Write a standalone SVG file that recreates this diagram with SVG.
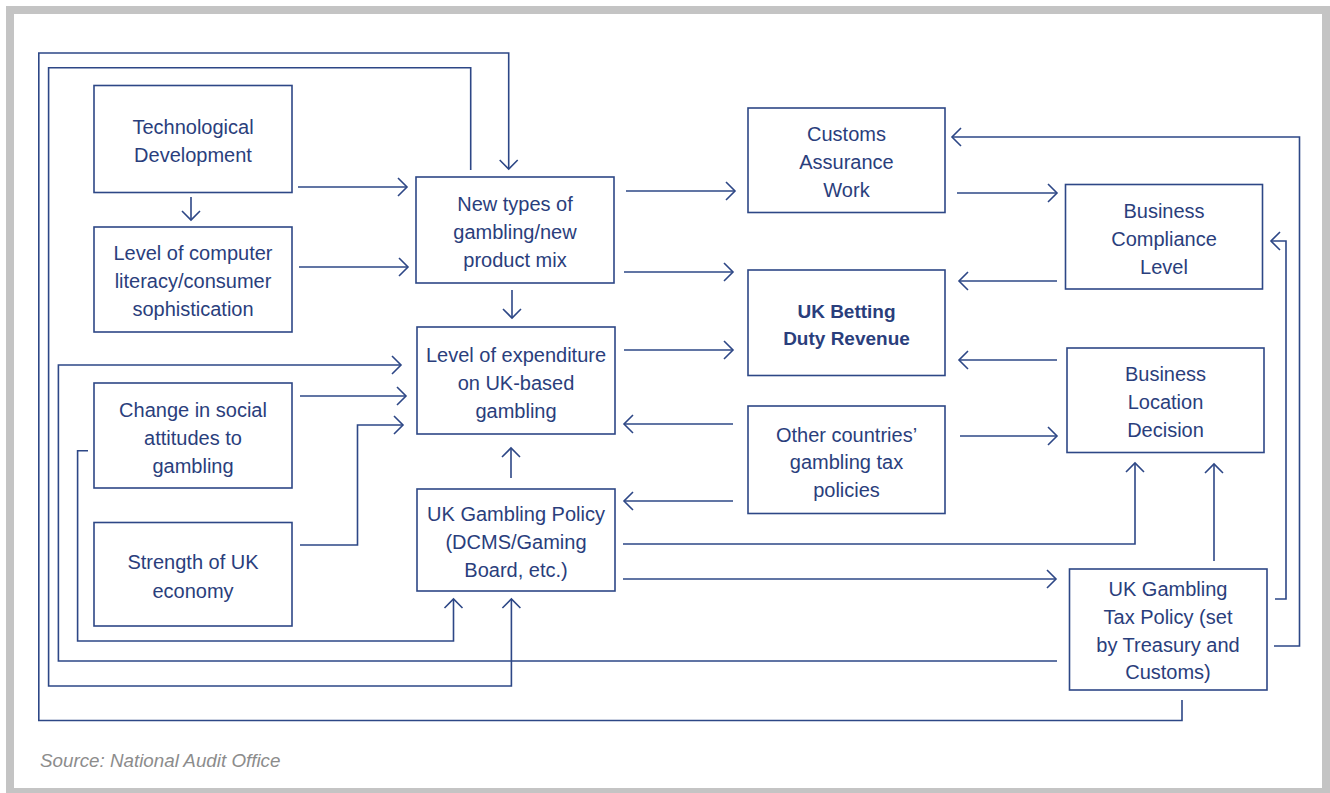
<svg xmlns="http://www.w3.org/2000/svg" width="1330" height="793" viewBox="0 0 1330 793">
<style>
.box{fill:#fff;stroke:#2d4786;stroke-width:1.6}
.t{font-family:"Liberation Sans",Arial,sans-serif;font-size:20px;fill:#2a3e7c;text-anchor:middle}
.b{font-weight:bold;font-size:19px}
.c{fill:none;stroke:#2d4786;stroke-width:1.6;stroke-linejoin:miter}
.a{marker-end:url(#arr)}
.src{font-family:"Liberation Sans",Arial,sans-serif;font-size:18.8px;font-style:italic;fill:#8c8c8c}
</style>
<defs>
<marker id="arr" markerUnits="userSpaceOnUse" markerWidth="14" markerHeight="22" viewBox="0 0 14 22" refX="11" refY="11" orient="auto">
<path d="M2,2 L11,11 L2,20" fill="none" stroke="#2d4786" stroke-width="1.6"/>
</marker>
</defs>
<rect x="0" y="0" width="1330" height="793" fill="#fff"/>
<rect x="10" y="10" width="1316" height="782" fill="none" stroke="#c4c4c4" stroke-width="8"/>

<g id="connectors">
<path class="c a" d="M298,187 H407"/>
<path class="c a" d="M191,197 V220"/>
<path class="c a" d="M299,267 H408"/>
<path class="c a" d="M512,290 V318"/>
<path class="c a" d="M626,191 H735"/>
<path class="c a" d="M624,272 H733"/>
<path class="c a" d="M624,350 H733"/>
<path class="c a" d="M957,193 H1057"/>
<path class="c a" d="M1057,281 H959"/>
<path class="c a" d="M1057,360 H959"/>
<path class="c a" d="M733,424 H624"/>
<path class="c a" d="M733,501 H624"/>
<path class="c a" d="M960,436 H1057"/>
<path class="c a" d="M623,544 H1135 V463"/>
<path class="c a" d="M623,579 H1056"/>
<path class="c a" d="M1214,561 V464"/>
<path class="c a" d="M1275,599 H1286 V241 H1271"/>
<path class="c a" d="M1274,646 H1299.5 V137 H952"/>
<path class="c a" d="M1182,700 V720.5 H38.8 V53 H508.7 V169"/>
<path class="c a" d="M470.7,170 V67.7 H48.6 V686 H511.4 V599"/>
<path class="c a" d="M1057,661 H58.4 V365 H401"/>
<path class="c a" d="M88,450.7 H77.6 V641 H453.5 V599"/>
<path class="c a" d="M300,396 H406"/>
<path class="c a" d="M300,545 H357.5 V425 H403"/>
<path class="c a" d="M511,478 V448"/>
</g>

<g id="tech">
<rect class="box" x="94" y="85.5" width="198" height="107"/>
<text class="t" x="193" y="133.5">Technological</text>
<text class="t" x="193" y="161.5">Development</text>
</g>
<g id="literacy">
<rect class="box" x="94" y="227" width="198" height="105"/>
<text class="t" x="193" y="260">Level of computer</text>
<text class="t" x="193" y="288">literacy/consumer</text>
<text class="t" x="193" y="316">sophistication</text>
</g>
<g id="social">
<rect class="box" x="94" y="383" width="198" height="105"/>
<text class="t" x="193" y="416.5">Change in social</text>
<text class="t" x="193" y="444.5">attitudes to</text>
<text class="t" x="193" y="472.5">gambling</text>
</g>
<g id="economy">
<rect class="box" x="94" y="522.5" width="198" height="103.5"/>
<text class="t" x="193" y="569">Strength of UK</text>
<text class="t" x="193" y="597.5">economy</text>
</g>
<g id="newtypes">
<rect class="box" x="416" y="177" width="198" height="106"/>
<text class="t" x="515" y="210.5">New types of</text>
<text class="t" x="515" y="238.5">gambling/new</text>
<text class="t" x="515" y="266.5">product mix</text>
</g>
<g id="expenditure">
<rect class="box" x="417" y="327" width="198" height="107"/>
<text class="t" x="516" y="361.5">Level of expenditure</text>
<text class="t" x="516" y="389.5">on UK-based</text>
<text class="t" x="516" y="417.5">gambling</text>
</g>
<g id="policy">
<rect class="box" x="417" y="489" width="198" height="102"/>
<text class="t" x="516" y="520.5">UK Gambling Policy</text>
<text class="t" x="516" y="548.5">(DCMS/Gaming</text>
<text class="t" x="516" y="576.5">Board, etc.)</text>
</g>
<g id="customs">
<rect class="box" x="748" y="108" width="197" height="104.5"/>
<text class="t" x="846.5" y="140.5">Customs</text>
<text class="t" x="846.5" y="168.5">Assurance</text>
<text class="t" x="846.5" y="196.5">Work</text>
</g>
<g id="revenue">
<rect class="box" x="748" y="270" width="197" height="105.5"/>
<text class="t b" x="846.5" y="317.5">UK Betting</text>
<text class="t b" x="846.5" y="345">Duty Revenue</text>
</g>
<g id="othercountries">
<rect class="box" x="748" y="406" width="197" height="107.5"/>
<text class="t" x="846.5" y="441.5">Other countries’</text>
<text class="t" x="846.5" y="469">gambling tax</text>
<text class="t" x="846.5" y="496.5">policies</text>
</g>
<g id="compliance">
<rect class="box" x="1065.5" y="184.5" width="197" height="104.5"/>
<text class="t" x="1164" y="218">Business</text>
<text class="t" x="1164" y="246">Compliance</text>
<text class="t" x="1164" y="273.5">Level</text>
</g>
<g id="location">
<rect class="box" x="1067" y="348" width="197" height="104.5"/>
<text class="t" x="1165.5" y="380.5">Business</text>
<text class="t" x="1165.5" y="408.5">Location</text>
<text class="t" x="1165.5" y="436.5">Decision</text>
</g>
<g id="taxpolicy">
<rect class="box" x="1069.5" y="569" width="197.5" height="121"/>
<text class="t" x="1168" y="595.5">UK Gambling</text>
<text class="t" x="1168" y="623.5">Tax Policy (set</text>
<text class="t" x="1168" y="651.5">by Treasury and</text>
<text class="t" x="1168" y="679">Customs)</text>
</g>
<text class="src" x="40" y="767">Source: National Audit Office</text>
</svg>
